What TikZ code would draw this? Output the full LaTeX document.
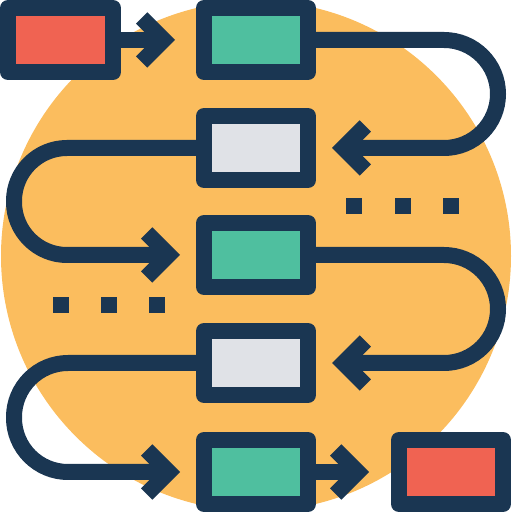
\documentclass[tikz,border=0pt]{standalone}
\usetikzlibrary{arrows.meta}
\definecolor{navy}{HTML}{1A3652}
\definecolor{sun}{HTML}{FBBD5E}
\definecolor{tomato}{HTML}{F06352}
\definecolor{mint}{HTML}{4FBF9F}
\definecolor{mist}{HTML}{E0E2E7}
\begin{document}
\begin{tikzpicture}[x=1pt,y=1pt,
    box/.style={draw=navy,line width=16pt,line join=round,minimum width=104pt,minimum height=64pt,inner sep=0pt},
    flow/.style={draw=navy,line width=16pt,-{Straight Barb[length=22pt,width=44pt,sharp]}},
    dot/.style={fill=navy,minimum size=16pt,inner sep=0pt}]
  \useasboundingbox (0,0) rectangle (512,512);
  \fill[sun] (256,256) circle[radius=255];

  \node[box,fill=tomato,minimum width=105pt] (r1) at (60.5,472) {};
  \node[box,fill=mint] (b1) at (256,472) {};
  \node[box,fill=mist] (b2) at (256,364) {};
  \node[box,fill=mint] (b3) at (256,257) {};
  \node[box,fill=mist] (b4) at (256,149) {};
  \node[box,fill=mint] (b5) at (256,40) {};
  \node[box,fill=tomato] (r2) at (451,40) {};

  \draw[flow,shorten >=21pt] (r1) -- (b1);
  \draw[flow,rounded corners=54pt,shorten >=16pt] (b1.east) -- ++(182,0) |- (b2.east);
  \draw[flow,rounded corners=53pt,shorten >=16pt] (b2.west) -- ++(-182,0) |- (b3.west);
  \draw[flow,rounded corners=54pt,shorten >=16pt] (b3.east) -- ++(182,0) |- (b4.east);
  \draw[flow,rounded corners=54pt,shorten >=16pt] (b4.west) -- ++(-182,0) |- (b5.west);
  \draw[flow,shorten >=22pt] (b5) -- (r2);

  \foreach \x in {354,403,451} \node[dot] (u\x) at (\x,306) {};
  \foreach \x in {61,109,157} \node[dot] (v\x) at (\x,207) {};
\end{tikzpicture}
\end{document}
